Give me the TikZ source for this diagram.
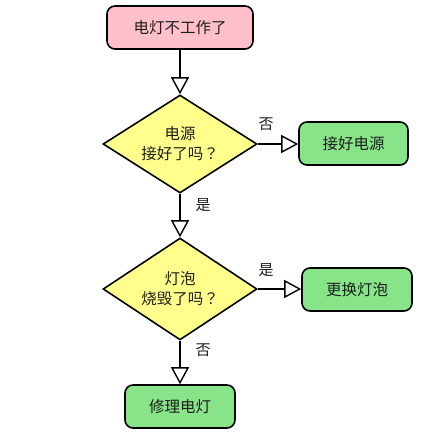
\documentclass[tikz,border=0pt]{standalone}
\usepackage{fontspec}
\setmainfont{Noto Sans CJK SC}
\newfontfamily\tcfont{Noto Sans CJK TC}
\usetikzlibrary{shapes.geometric,arrows.meta}
\definecolor{pinkfill}{RGB}{255,192,203}
\definecolor{yellowfill}{RGB}{255,255,140}
\definecolor{greenfill}{RGB}{136,228,136}
\definecolor{txt}{RGB}{30,30,30}
\newcommand{\qmk}{{\tcfont ？}}
\begin{document}
\begin{tikzpicture}[x=1pt,y=-1pt,
  base/.style={draw=black,line width=1.6pt,text=txt,font=\fontsize{15.5}{20}\selectfont,align=center,inner sep=0pt},
  termbox/.style={base,rounded corners=8pt,minimum height=43pt},
  decbox/.style={base,diamond,aspect=1.54,fill=yellowfill,minimum width=154pt},
  lbl/.style={text=txt,font=\fontsize{15}{16}\selectfont,inner sep=0pt},
  flow/.style={line width=1.6pt,-{Triangle[open,length=17pt,width=18pt,line width=1.4pt]}}
]
\useasboundingbox (0,0) rectangle (434,439);
\node[termbox,fill=pinkfill,minimum width=146pt] (start) at (180,27.5) {电灯不工作了};
\node[decbox,minimum height=98pt] (d1) at (180,144) {电源\\接好了吗\qmk};
\node[termbox,fill=greenfill,minimum width=109pt] (b1) at (353.5,143.5) {接好电源};
\node[decbox,minimum height=102pt] (d2) at (180,289) {灯泡\\烧毁了吗\qmk};
\node[termbox,fill=greenfill,minimum width=110pt] (b2) at (357,289.5) {更换灯泡};
\node[termbox,fill=greenfill,minimum width=110pt] (b3) at (180,406.5) {修理电灯};
\draw[flow] (start.south) -- (d1.north);
\draw[flow] (d1.east) -- (d1.east -| b1.west);
\draw[flow] (d1.south) -- (d2.north);
\draw[flow] (d2.east) -- (d2.east -| b2.west);
\draw[flow] (d2.south) -- (b3.north);
\node[lbl] (l1) at (266,124) {否};
\node[lbl] (l2) at (203,205) {是};
\node[lbl] (l3) at (266,270) {是};
\node[lbl] (l4) at (203,350) {否};
\end{tikzpicture}
\end{document}
